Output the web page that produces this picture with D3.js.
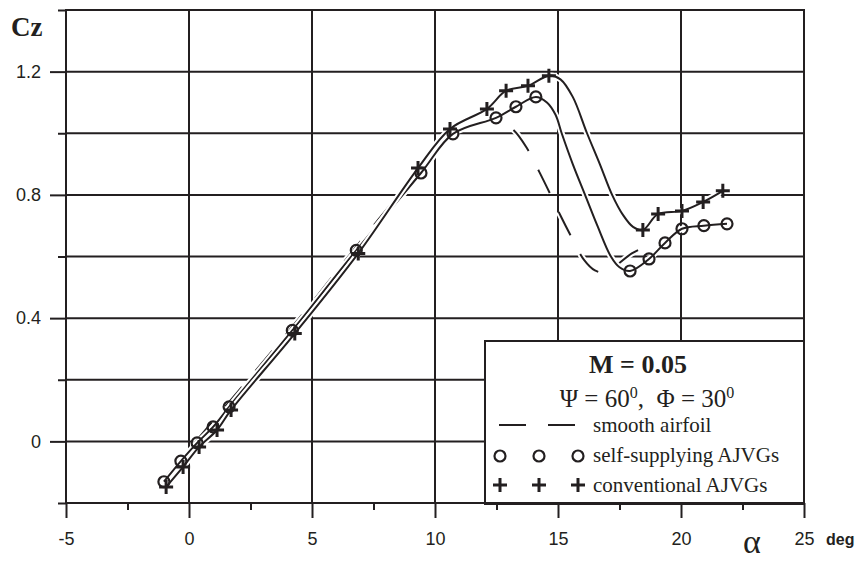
<!DOCTYPE html>
<html>
<head>
<meta charset="utf-8">
<script src="https://cdn.jsdelivr.net/npm/d3@7"></script>
<style>
  body { margin: 0; background: #fff; }
  svg { display: block; }
</style>
</head>
<body>
<div id="chart"></div>
<script>
// angle of attack (deg) and lift coefficient
const selfX = [-1.02, -0.33, 0.33, 0.98, 1.63, 4.2, 6.8, 9.43, 10.73, 12.48, 13.29, 14.1, 17.93, 18.7, 19.35, 20.04, 20.93, 21.87];
const selfY = [-0.131, -0.064, -0.005, 0.047, 0.112, 0.36, 0.62, 0.871, 0.998, 1.05, 1.086, 1.118, 0.553, 0.592, 0.644, 0.69, 0.70, 0.706];
// extra points of the fitted curve where there are no markers (stall drop)
const selfFitX = [14.55, 14.9, 15.15, 15.6, 16.1, 16.6, 17.15, 17.5];
const selfFitY = [1.10, 1.06, 1.0, 0.90, 0.80, 0.70, 0.60, 0.565];

const convX = [-0.93, -0.24, 0.41, 1.14, 1.71, 4.3, 6.88, 9.31, 10.61, 12.11, 12.89, 13.78, 14.63, 18.45, 19.07, 20.04, 20.9, 21.7];
const convY = [-0.148, -0.083, -0.018, 0.037, 0.102, 0.35, 0.61, 0.887, 1.014, 1.079, 1.138, 1.154, 1.187, 0.686, 0.738, 0.748, 0.777, 0.813];
const convFitX = [15.1, 15.6, 16.18, 16.7, 17.2, 17.64, 18.05];
const convFitY = [1.175, 1.118, 1.0, 0.9, 0.8, 0.735, 0.696];

const smoothX = [-1.0, 1.6, 4.2, 6.8, 9.4, 10.4, 11.2, 12.0, 12.5, 13.2, 13.75, 14.25, 14.7, 15.1, 15.6, 16.05, 16.5, 16.9, 17.4, 18.0, 18.5, 19.3];
const smoothY = [-0.12, 0.125, 0.372, 0.632, 0.885, 0.985, 1.02, 1.04, 1.045, 1.01, 0.95, 0.873, 0.80, 0.733, 0.655, 0.59, 0.555, 0.548, 0.573, 0.61, 0.628, 0.635];

const xMajor = [-5, 0, 5, 10, 15, 20, 25];
const xMinor = [-2.5, 2.5, 7.5, 12.5, 17.5, 22.5];
const yMajor = [0, 0.4, 0.8, 1.2];
const yMinor = [-0.2, 0.2, 0.6, 1.0, 1.4];

const W = 860, H = 562;
const INK = "#231f20";
const margin = {top: 10, right: 56, bottom: 59, left: 66};

const x = d3.scaleLinear().domain([-5, 25]).range([margin.left, W - margin.right]);
const y = d3.scaleLinear().domain([-0.2, 1.4]).range([H - margin.bottom, margin.top]);

const svg = d3.select("#chart").append("svg")
  .attr("width", W).attr("height", H)
  .attr("viewBox", `0 0 ${W} ${H}`);

// grid
const grid = svg.append("g").attr("stroke", INK).attr("stroke-width", 2);
grid.selectAll("line.h")
  .data(yMajor.concat(yMinor))
  .enter().append("line")
  .attr("x1", x(-5)).attr("x2", x(25))
  .attr("y1", d => y(d)).attr("y2", d => y(d));
grid.selectAll("line.v")
  .data(xMajor)
  .enter().append("line")
  .attr("x1", d => x(d)).attr("x2", d => x(d))
  .attr("y1", y(1.4)).attr("y2", y(-0.2));

// axes (ticks + labels)
function styleAxis(g) {
  g.select(".domain").remove();
  g.selectAll(".tick line").attr("stroke", INK).attr("stroke-width", 2);
  g.selectAll(".tick text")
    .attr("fill", INK)
    .attr("font-family", "Liberation Sans, Arial, sans-serif")
    .attr("font-size", 18);
}

svg.append("g")
  .attr("transform", `translate(${x(-5)},0)`)
  .call(d3.axisLeft(y).tickValues(yMajor).tickSize(16).tickPadding(9)
    .tickFormat(d => d === 0 ? "0" : d.toFixed(1)))
  .call(styleAxis);
svg.append("g")
  .attr("transform", `translate(${x(-5)},0)`)
  .call(d3.axisLeft(y).tickValues(yMinor).tickSize(8).tickFormat(""))
  .call(styleAxis);
svg.append("g")
  .attr("transform", `translate(0,${y(-0.2)})`)
  .call(d3.axisBottom(x).tickValues(xMajor).tickSize(15).tickPadding(14).tickFormat(d => String(d)))
  .call(styleAxis);
svg.append("g")
  .attr("transform", `translate(0,${y(-0.2)})`)
  .call(d3.axisBottom(x).tickValues(xMinor).tickSize(7).tickFormat(""))
  .call(styleAxis);

// curves
const zip = (xs, ys) => xs.map((v, i) => ({x: v, y: ys[i]}));
const merge = (a, b) => a.concat(b).sort((p, q) => p.x - q.x);

const line = d3.line()
  .x(d => x(d.x)).y(d => y(d.y))
  .curve(d3.curveCatmullRom.alpha(0.5));

function drawCurve(pts, dash) {
  const g = svg.append("g").attr("fill", "none");
  g.append("path").attr("d", line(pts))
    .attr("stroke", "#fff").attr("stroke-width", 6)
    .attr("stroke-dasharray", dash);
  g.append("path").attr("d", line(pts))
    .attr("stroke", INK).attr("stroke-width", 2)
    .attr("stroke-dasharray", dash);
}

const selfPts = zip(selfX, selfY);
const convPts = zip(convX, convY);

drawCurve(zip(smoothX, smoothY), "26,21");
drawCurve(merge(selfPts, zip(selfFitX, selfFitY)), null);
drawCurve(merge(convPts, zip(convFitX, convFitY)), null);

// markers
const plusPath = "M-7,0H7M0,-7V7";
svg.append("g").selectAll("circle")
  .data(selfPts).enter().append("circle")
  .attr("cx", d => x(d.x)).attr("cy", d => y(d.y)).attr("r", 5.5)
  .attr("fill", "none").attr("stroke", INK).attr("stroke-width", 2.2);
svg.append("g").selectAll("path")
  .data(convPts).enter().append("path")
  .attr("d", plusPath)
  .attr("transform", d => `translate(${x(d.x)},${y(d.y)})`)
  .attr("stroke", INK).attr("stroke-width", 3).attr("fill", "none");

// axis titles
const serif = "Liberation Serif, 'Times New Roman', serif";
svg.append("text").attr("x", 11).attr("y", 36)
  .attr("font-family", serif).attr("font-weight", "bold").attr("font-size", 27)
  .attr("fill", INK).text("Cz");
svg.append("text").attr("x", 752).attr("y", 553).attr("text-anchor", "middle")
  .attr("font-family", serif).attr("font-size", 34)
  .attr("fill", INK).text("α");
svg.append("text").attr("x", 826).attr("y", 545)
  .attr("font-family", "Liberation Sans, Arial, sans-serif").attr("font-weight", "bold").attr("font-size", 16)
  .attr("fill", INK).text("deg");

// legend
const lg = svg.append("g");
lg.append("rect").attr("x", 485).attr("y", 341).attr("width", 319).attr("height", 163)
  .attr("fill", "#fff").attr("stroke", INK).attr("stroke-width", 2);
lg.append("text").attr("x", 638).attr("y", 373).attr("text-anchor", "middle")
  .attr("font-family", serif).attr("font-weight", "bold").attr("font-size", 26)
  .attr("fill", INK).text("M = 0.05");
const t2 = lg.append("text").attr("x", 647).attr("y", 407).attr("text-anchor", "middle")
  .attr("font-family", serif).attr("font-size", 25).attr("fill", INK);
t2.append("tspan").text("Ψ = 60");
t2.append("tspan").attr("dy", -9).attr("font-size", 16).text("0");
t2.append("tspan").attr("dy", 9).text(",\u00a0\u00a0Φ = 30");
t2.append("tspan").attr("dy", -9).attr("font-size", 16).text("0");

const legX = [500, 539, 578];
lg.selectAll("line.ld").data([[499, 526], [548, 575]]).enter().append("line")
  .attr("x1", d => d[0]).attr("x2", d => d[1]).attr("y1", 425).attr("y2", 425)
  .attr("stroke", INK).attr("stroke-width", 2);
lg.selectAll("circle").data(legX).enter().append("circle")
  .attr("cx", d => d).attr("cy", 456).attr("r", 5.5)
  .attr("fill", "none").attr("stroke", INK).attr("stroke-width", 2.2);
lg.selectAll("path").data(legX).enter().append("path")
  .attr("d", plusPath).attr("transform", d => `translate(${d},485)`)
  .attr("stroke", INK).attr("stroke-width", 3);
const legLabels = ["smooth airfoil", "self-supplying AJVGs", "conventional AJVGs"];
lg.selectAll("text.lab").data(legLabels).enter().append("text")
  .attr("x", 593).attr("y", (d, i) => [432, 462, 492][i])
  .attr("font-family", serif).attr("font-size", 21).attr("fill", INK)
  .text(d => d);

// frame
svg.append("rect").attr("x", x(-5)).attr("y", y(1.4))
  .attr("width", x(25) - x(-5)).attr("height", y(-0.2) - y(1.4))
  .attr("fill", "none").attr("stroke", INK).attr("stroke-width", 2);
</script>
</body>
</html>
